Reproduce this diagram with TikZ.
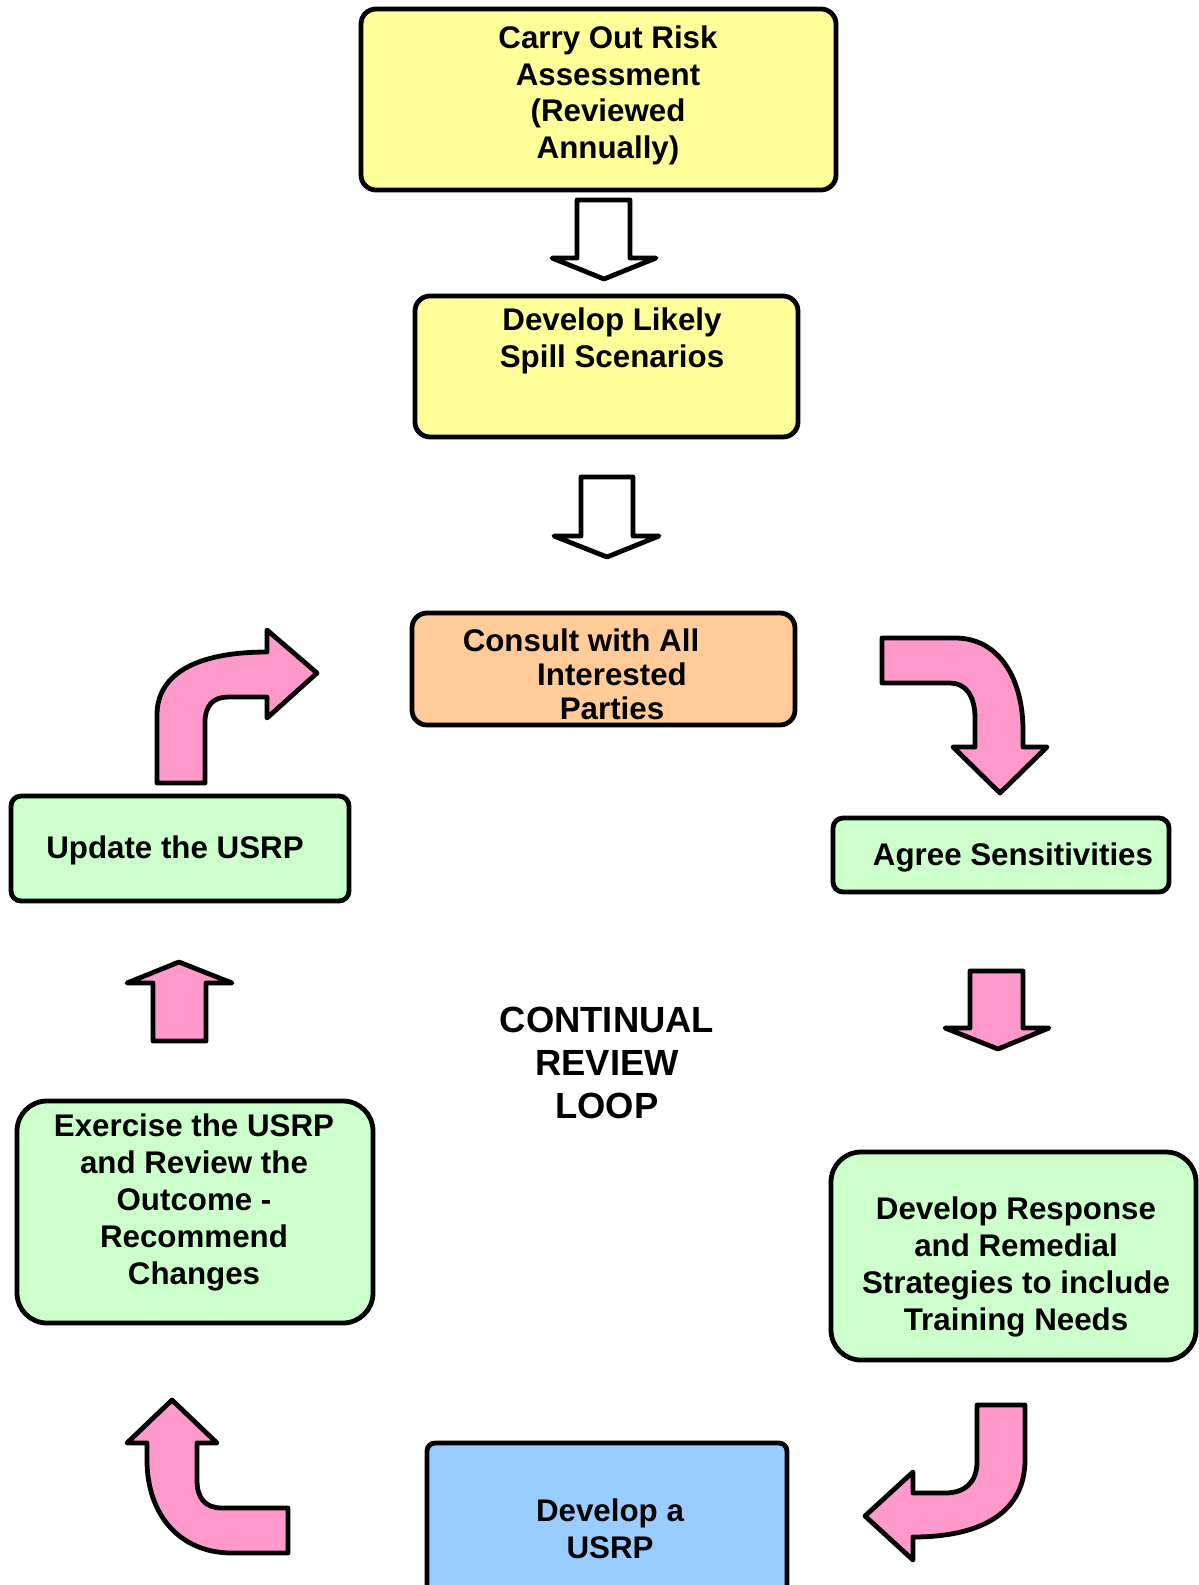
\documentclass[tikz,border=0pt]{standalone}
\usepackage{fontspec}
\setmainfont{Liberation Sans}
\usetikzlibrary{fit}
\definecolor{cyel}{HTML}{FFFF99}
\definecolor{corg}{HTML}{FFCC99}
\definecolor{cgrn}{HTML}{CCFFCC}
\definecolor{cblu}{HTML}{99CCFF}
\definecolor{cpnk}{HTML}{FF99CC}
\begin{document}
\begin{tikzpicture}[x=0.5pt,y=-0.5pt,line join=round,
  box/.style={draw=black,line width=2.4pt,inner sep=0pt,outer sep=0pt},
  txt/.style={font=\bfseries\fontsize{15.65pt}{18.2pt}\selectfont,align=center,inner sep=0pt,anchor=base},
  wide/.style={font=\bfseries\fontsize{15.65pt}{18.5pt}\selectfont},
  blkarrow/.style={draw=black,line width=2.4pt}]
\clip (0,0) rectangle (1199,1585);
% boxes
\node[box,fill=cyel,rounded corners=7.5pt,fit={(361,9) (836,190)}] (b1) {};
\node[box,fill=cyel,rounded corners=7.5pt,fit={(415,296) (798,437)}] (b2) {};
\node[box,fill=corg,rounded corners=7.5pt,fit={(412,613) (795,725)}] (b3) {};
\node[box,fill=cgrn,rounded corners=5pt,fit={(833,818) (1169,892)}] (b4) {};
\node[box,fill=cgrn,rounded corners=15pt,fit={(831,1152) (1196,1360)}] (b5) {};
\node[box,fill=cblu,rounded corners=4pt,fit={(427,1443) (787,1610)}] (b6) {};
\node[box,fill=cgrn,rounded corners=15pt,fit={(17,1101) (373,1323)}] (b7) {};
\node[box,fill=cgrn,rounded corners=5pt,fit={(11,796) (349,901)}] (b8) {};
% texts (anchored at the baseline of the last line)
\node[txt] (t1) at (608,158) {Carry Out Risk\\Assessment\\(Reviewed\\Annually)};
\node[txt] (t2) at (612,367) {Develop Likely\\Spill Scenarios};
\node[txt,font=\bfseries\fontsize{15.65pt}{17pt}\selectfont] (t3) at (612,719) {Consult with All\rule{31pt}{0pt}\\Interested\\Parties};
\node[txt] (t4) at (1013,865) {Agree Sensitivities};
\node[txt,wide] (t5) at (1016,1330) {Develop Response\\and Remedial\\Strategies to include\\Training Needs};
\node[txt] (t6) at (610,1558) {Develop a\\USRP};
\node[txt,wide] (t7) at (194,1284) {Exercise the USRP\\and Review the\\Outcome -\\Recommend\\Changes};
\node[txt] (t8) at (175,858) {Update the USRP};
\node[txt,font=\bfseries\fontsize{18.2pt}{21.5pt}\selectfont] (t9) at (607,1118) {CONTINUAL\\REVIEW\\LOOP};
% straight block arrows
\draw[blkarrow,fill=white] (577,200) -- (630,200) -- (630,258) -- (656,258) -- (604,279) -- (552,258) -- (577,258) -- cycle;
\draw[blkarrow,fill=white] (581,477) -- (633,477) -- (633,536) -- (659,536) -- (607,557) -- (554,536) -- (581,536) -- cycle;
\draw[blkarrow,fill=cpnk] (970,971) -- (1023,971) -- (1023,1028) -- (1049,1028) -- (998,1049) -- (945,1028) -- (970,1028) -- cycle;
\draw[blkarrow,fill=cpnk] (153,1041) -- (206,1041) -- (206,983) -- (232,983) -- (179,962) -- (127,983) -- (153,983) -- cycle;
% curved block arrows
\draw[blkarrow,fill=cpnk] (882,638) -- (955,638) .. controls (1000,638) and (1023,680) .. (1023,730) -- (1023,747) -- (1047,747) -- (1000,793) -- (953,747) -- (975,747) -- (975,718) .. controls (975,695) and (965,683) .. (950,683) -- (882,683) -- cycle;
\draw[blkarrow,fill=cpnk] (157,783) -- (157,715) .. controls (157,672) and (200,652) .. (267,652) -- (267,630) -- (317,673) -- (267,718) -- (267,697) -- (228,697) .. controls (213,697) and (205,706) .. (205,722) -- (205,783) -- cycle;
\draw[blkarrow,fill=cpnk] (977,1405) -- (1025,1405) -- (1025,1460) .. controls (1025,1510) and (985,1537) .. (913,1537) -- (913,1560) -- (865,1516) -- (913,1472) -- (913,1493) -- (945,1493) .. controls (965,1493) and (977,1482) .. (977,1462) -- cycle;
\draw[blkarrow,fill=cpnk] (147,1443) -- (127,1443) -- (172,1400) -- (217,1443) -- (197,1443) -- (197,1480) .. controls (197,1498) and (205,1508) .. (222,1508) -- (288,1508) -- (288,1553) -- (232,1553) .. controls (180,1553) and (147,1515) .. (147,1460) -- cycle;
\end{tikzpicture}
\end{document}
